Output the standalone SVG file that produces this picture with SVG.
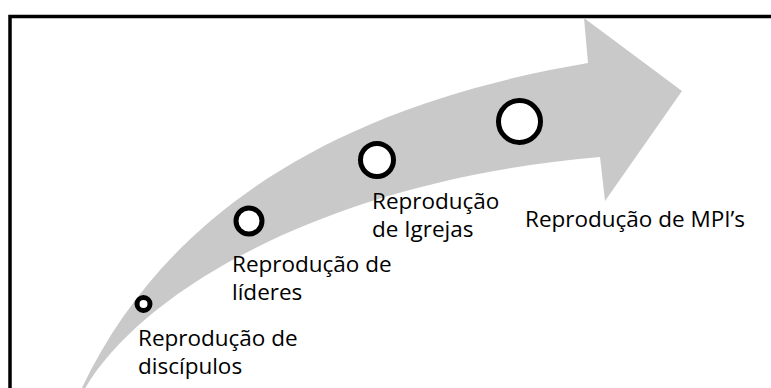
<svg xmlns="http://www.w3.org/2000/svg" width="771" height="388" viewBox="0 0 771 388">
<style>
.frame{fill:#ffffff;stroke:#000000;stroke-width:3.5}
.arrow{fill:#c9c9c9;stroke:none}
.dot{fill:#ffffff;stroke:#000000;stroke-width:5}
.lbl{font-family:"Open Sans","Liberation Sans",sans-serif;font-size:22.5px;fill:#000000}
</style>
<rect class="frame" x="10" y="16.5" width="790" height="400"/>
<g id="connectors">
<path class="arrow" d="M80,392 C165,210 340,105 588,63 L584,18 L682,91 L605,201 L600,157 C330,180 140,290 83,392 Z"/>
</g>
<g id="node-discipulos">
<circle class="dot" cx="143.5" cy="304" r="6.5"/>
<text class="lbl" x="138" y="346">Reprodução de</text>
<text class="lbl" x="138" y="374">discípulos</text>
</g>
<g id="node-lideres">
<circle class="dot" cx="249" cy="221" r="13"/>
<text class="lbl" x="232" y="272">Reprodução de</text>
<text class="lbl" x="232" y="300">líderes</text>
</g>
<g id="node-igrejas">
<circle class="dot" cx="377" cy="160" r="16.5"/>
<text class="lbl" x="372" y="209">Reprodução</text>
<text class="lbl" x="372" y="237">de Igrejas</text>
</g>
<g id="node-mpis">
<circle class="dot" cx="519.5" cy="121.5" r="21"/>
<text class="lbl" x="525" y="227">Reprodução de MPI’s</text>
</g>
</svg>
